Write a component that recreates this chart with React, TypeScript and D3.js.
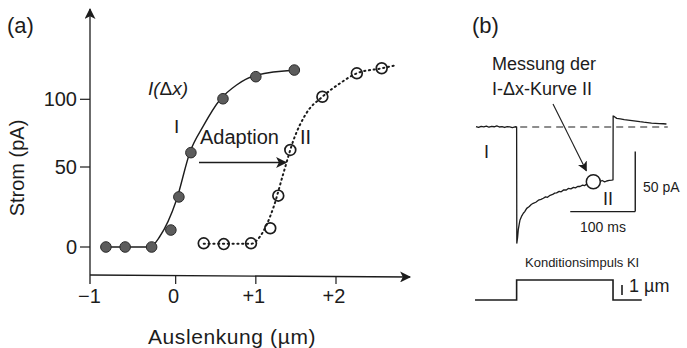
import React from 'react';
import * as d3 from 'd3';

// (a) Strom-Auslenkungs-Kurven
const xTicks = [-1, 0, 1, 2];
const xTickLabels = ['\u22121', '0', '+1', '+2'];
const yTicks = [0, 50, 100];

// Messpunkte Kurve I (gefuellt) und II (offen): [Auslenkung µm, Strom pA]
const pointsI: [number, number][] = [
  [-0.87, 0], [-0.63, 0], [-0.3, 0], [-0.06, 10.6], [0.04, 31.3],
  [0.19, 60.6], [0.59, 100.4], [1.0, 116.7], [1.48, 121.6],
];
const pointsII: [number, number][] = [
  [0.35, 2.3], [0.6, 1.8], [0.94, 2.3], [1.18, 11.7], [1.28, 32.1],
  [1.43, 62.6], [1.83, 101.9], [2.26, 119.2], [2.57, 122.9],
];
// Verlauf der Kurven
const fitI: [number, number][] = [
  [-0.87, 0], [-0.32, 0], [-0.2, 6.4], [0.01, 29.4], [0.18, 61.3], [0.34, 79.8],
  [0.55, 99.5], [0.76, 110.6], [1.01, 117.9], [1.51, 121.6],
];
const fitII: [number, number][] = [
  [0.35, 2], [0.94, 2], [1.05, 6.4], [1.22, 24.8], [1.34, 45.4], [1.47, 69.9],
  [1.63, 89.7], [1.83, 101.9], [2.05, 111.8], [2.26, 119.2], [2.57, 122.9], [2.76, 125.3],
];

// (b) Stromspur [ms, pA] und Reiz [ms, µm]
const traceI: [number, number][] = [
  [0, 0.4], [4, -0.3], [8, 0.6], [12, 0.1], [16, 0.8], [20, -0.2], [24, 0.5], [28, 0.2],
  [32, 0.9], [36, 0], [40, 0.4], [44, -0.4], [48, 0.3], [52, 0.1], [56, -0.5], [60, 0.2], [62.5, 0],
  [62.8, -96.7], [64, -92], [65, -85.8], [66.5, -81], [67.7, -77.5], [70, -74.5], [72.8, -71.9],
  [75, -70.5], [78, -67.8], [82, -66.2], [85, -64.6], [88, -63.6], [92, -62.7], [96, -61],
  [100, -60.3], [103.6, -59.4], [107, -58.2], [110, -58.6], [114, -56.9], [118, -56.2],
  [121, -55.1], [124, -54.9], [128, -53.6], [131, -54], [135, -52.4], [139, -52.5], [142, -51.2],
  [146, -51.6], [150, -50.3], [153, -50.7], [157, -49.4], [160, -49.6], [164, -48.4],
  [167, -48.9], [170, -47.6], [173, -46.9], [176, -46.3], [180.5, -45.6], [186, -45],
  [190, -45.8], [194, -44.6], [198, -45.7], [201, -45], [205, -44.5], [208.8, -44.2], [210.8, -44],
  [211, 9.2], [213, 8.6], [216.5, 7.2], [222, 6.8], [228, 6.1], [234, 5.7], [240, 5.3],
  [246, 4.9], [252, 4.4], [258, 4], [264, 3.7], [270, 3.3], [276, 3.1], [282, 2.8], [288, 2.7], [293, 2.5],
];
const stimulus: [number, number][] = [
  [-1.5, 0], [62.5, 0], [62.5, 2], [210.8, 2], [210.8, 0], [255, 0],
];
const markerII: [number, number] = [180.5, -45.6];
const baselineRange = [68, 295];
const scaleBarT = [145, 245]; // 100 ms
const scaleBarI = [-70.5, -20.5]; // 50 pA
const scaleBarUm = [0.5, 1.5]; // 1 µm

const font = 'Liberation Sans, Arial, Helvetica, sans-serif';
const ink = '#1c1c1c';

export default function App() {
  const x = d3.scaleLinear().domain([-1, 2]).range([95.5, 336]);
  const y = d3.scaleLinear().domain([0, 50, 100]).range([247, 167, 99.3]);

  const lineA = d3.line<[number, number]>()
    .x(d => x(d[0])).y(d => y(d[1]))
    .curve(d3.curveMonotoneX);

  const t = d3.scaleLinear().domain([0, 100]).range([476, 541]);
  const cur = d3.scaleLinear().domain([0, -50]).range([127, 187]);
  const um = d3.scaleLinear().domain([0, 1]).range([300, 290]);

  const traceLine = d3.line<[number, number]>().x(d => t(d[0])).y(d => cur(d[1]));
  const stimLine = d3.line<[number, number]>().x(d => t(d[0])).y(d => um(d[1]));

  const axisX0 = 90;
  const axisY0 = 275;

  return (
    <svg width={687} height={348} style={{ position: 'absolute', left: 0, top: 0, background: '#fff' }}
      fontFamily={font}>
      <defs>
        <marker id="arr" viewBox="0 0 10 10" refX="9" refY="5" markerWidth="10" markerHeight="10"
          markerUnits="userSpaceOnUse" orient="auto">
          <path d="M0,0 L10,5 L0,10 L2.5,5 z" fill={ink} />
        </marker>
        <marker id="arrBig" viewBox="0 0 10 10" refX="9" refY="5" markerWidth="13" markerHeight="11"
          markerUnits="userSpaceOnUse" orient="auto">
          <path d="M0,0 L10,5 L0,10 L2.5,5 z" fill={ink} />
        </marker>
      </defs>

      {/* (a) */}
      <text x={7} y={33} fontSize={22} fill={ink}>(a)</text>

      {/* Achsen */}
      <line x1={axisX0} y1={284} x2={axisX0} y2={9} stroke={ink} strokeWidth={1.3} markerEnd="url(#arrBig)" />
      <line x1={axisX0} y1={axisY0} x2={410} y2={axisY0 + 2} stroke={ink} strokeWidth={1.3} markerEnd="url(#arrBig)" />
      {yTicks.map(v => (
        <g key={v}>
          <line x1={80} x2={axisX0} y1={y(v)} y2={y(v)} stroke={ink} strokeWidth={1.2} />
          <text x={77} y={y(v)} dy="0.35em" textAnchor="end" fontSize={20} fill={ink}>{v}</text>
        </g>
      ))}
      {xTicks.map((v, i) => (
        <g key={v}>
          {v > -1 && <line x1={x(v)} x2={x(v)} y1={axisY0 + 1} y2={axisY0 + 9} stroke={ink} strokeWidth={1.2} />}
          <text x={x(v) - (v === -1 ? 6 : 2)} y={303} textAnchor="middle" fontSize={20} fill={ink}>{xTickLabels[i]}</text>
        </g>
      ))}
      <text transform="translate(24,168) rotate(-90)" textAnchor="middle" fontSize={20} fill={ink}>Strom (pA)</text>
      <text x={232} y={344} textAnchor="middle" fontSize={21} fill={ink} letterSpacing={0.6}>Auslenkung (µm)</text>

      {/* Kurven */}
      <path d={lineA(fitI) || ''} fill="none" stroke={ink} strokeWidth={1.4} />
      <path d={lineA(fitII) || ''} fill="none" stroke={ink} strokeWidth={2} strokeDasharray="1.2,3.6" strokeLinecap="round" />
      {pointsI.map((p, i) => (
        <circle key={i} cx={x(p[0])} cy={y(p[1])} r={5.3} fill="#5c5c5c" stroke="#2a2a2a" strokeWidth={1} />
      ))}
      {pointsII.map((p, i) => (
        <circle key={i} cx={x(p[0])} cy={y(p[1])} r={5.4} fill="none" stroke={ink} strokeWidth={1.7} />
      ))}

      <text x={148} y={95} fontSize={19} fontStyle="italic" fill={ink}>I(<tspan fontStyle="normal">Δ</tspan>x)</text>
      <text x={174} y={133} fontSize={19} fill={ink}>I</text>
      <text x={200} y={144} fontSize={20} fill={ink}>Adaption</text>
      <text x={300} y={144} fontSize={20} fill={ink}>II</text>
      <line x1={199} y1={162.5} x2={286} y2={162.5} stroke={ink} strokeWidth={1.3} markerEnd="url(#arrBig)" />

      {/* (b) */}
      <text x={472} y={33} fontSize={22} fill={ink}>(b)</text>
      <text x={492} y={70} fontSize={18} fill={ink}>Messung der</text>
      <text x={492} y={95} fontSize={18} fill={ink}>I-Δx-Kurve II</text>

      <line x1={t(baselineRange[0])} x2={t(baselineRange[1])} y1={cur(0)} y2={cur(0)}
        stroke={ink} strokeWidth={1.2} strokeDasharray="7,5" />
      <path d={traceLine(traceI) || ''} fill="none" stroke={ink} strokeWidth={1.3} strokeLinejoin="round" />
      <circle cx={t(markerII[0])} cy={cur(markerII[1])} r={7} fill="#fff" stroke={ink} strokeWidth={1.5} />
      <line x1={553} y1={104} x2={t(markerII[0]) - 7} y2={cur(markerII[1]) - 11} stroke={ink} strokeWidth={1.1} markerEnd="url(#arr)" />
      <text x={484} y={158} fontSize={18} fill={ink}>I</text>
      <text x={603} y={205} fontSize={18} fill={ink}>II</text>

      {/* Massstab */}
      <line x1={t(scaleBarT[0])} x2={t(scaleBarT[1])} y1={cur(scaleBarI[0])} y2={cur(scaleBarI[0])} stroke={ink} strokeWidth={1.4} />
      <line x1={t(scaleBarT[1])} x2={t(scaleBarT[1])} y1={cur(scaleBarI[0])} y2={cur(scaleBarI[1])} stroke={ink} strokeWidth={1.4} />
      <text x={643} y={192} fontSize={14} fill={ink}>50 pA</text>
      <text x={603} y={232} textAnchor="middle" fontSize={14} fill={ink}>100 ms</text>

      <text x={525} y={267} fontSize={13} fill={ink}>Konditionsimpuls KI</text>
      <path d={stimLine(stimulus) || ''} fill="none" stroke={ink} strokeWidth={1.6} />
      <line x1={622} x2={622} y1={um(scaleBarUm[0])} y2={um(scaleBarUm[1])} stroke={ink} strokeWidth={1.6} />
      <text x={629} y={292} fontSize={18} fill={ink}>1 µm</text>
    </svg>
  );
}
